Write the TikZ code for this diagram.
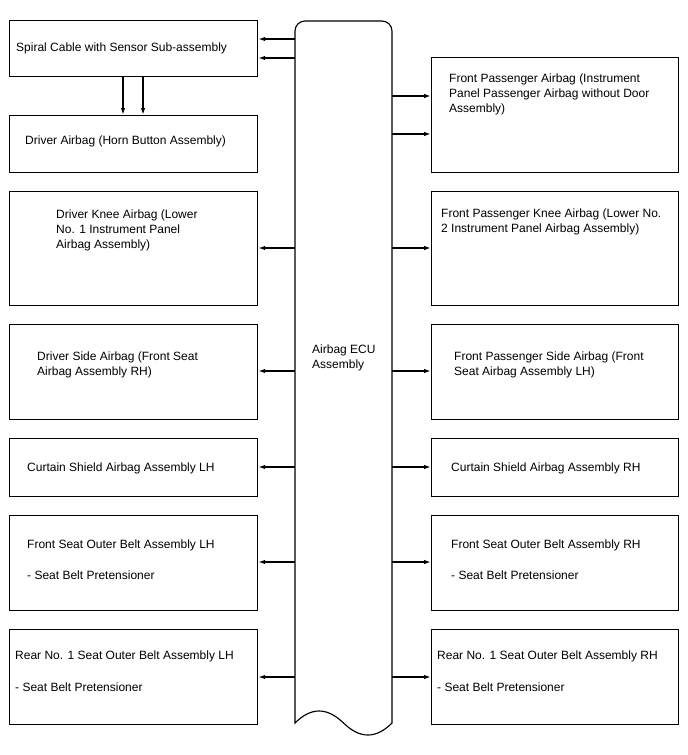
\documentclass[tikz,border=0pt]{standalone}
\usepackage{fontspec}
\setmainfont{Liberation Sans}
\usetikzlibrary{arrows.meta}
\begin{document}
\begin{tikzpicture}[x=1pt,y=-1pt,
  box/.style={draw, line width=1.15pt, inner sep=0, anchor=north west},
  lbox/.style={box, minimum width=248pt},
  rbox/.style={box, minimum width=247pt},
  txt/.style={anchor=base west, inner sep=0, font=\fontsize{12}{15}\selectfont},
  arr/.style={-{Latex[length=7pt,width=4.5pt]}, line width=1.4pt},
  eculine/.style={line width=1.15pt}]
\useasboundingbox (0,0) rectangle (688,755);

% central ECU
\node[anchor=north west, inner sep=0, minimum width=97pt, minimum height=702pt] (ecu) at (295,21) {};
\draw[eculine] [rounded corners=10pt] (295,723) -- (295,21) -- (392,21) [sharp corners] -- (392,723)
  .. controls (376,739) and (360,739) .. (343.5,723)
  .. controls (327,707) and (311,707) .. (295,723) -- cycle;
\node[txt] (e1) at (312,353) {Airbag ECU};
\node[txt] (e2) at (312,368) {Assembly};

% left boxes
\node[lbox, minimum height=56pt] (spiral) at (9,20) {};
\node[lbox, minimum height=57pt] (drv) at (9,115) {};
\node[lbox, minimum height=114pt] (knee) at (9,191) {};
\node[lbox, minimum height=95pt] (side) at (9,324) {};
\node[lbox, minimum height=58pt] (curtL) at (9,438) {};
\node[lbox, minimum height=95pt] (fsL) at (9,515) {};
\node[lbox, minimum height=95pt] (rearL) at (9,629) {};

% right boxes
\node[rbox, minimum height=115pt] (fpa) at (431,57) {};
\node[rbox, minimum height=114pt] (fpk) at (431,191) {};
\node[rbox, minimum height=95pt] (fps) at (431,324) {};
\node[rbox, minimum height=58pt] (curtR) at (431,438) {};
\node[rbox, minimum height=95pt] (fsR) at (431,515) {};
\node[rbox, minimum height=95pt] (rearR) at (431,629) {};

% texts left
\node[txt] (l1) at (16,51) {Spiral Cable with Sensor Sub-assembly};
\node[txt] (l2) at (25,144) {Driver Airbag (Horn Button Assembly)};
\node[txt] (l3a) at (56,218) {Driver Knee Airbag (Lower};
\node[txt] (l3b) at (56,233) {No. 1 Instrument Panel};
\node[txt] (l3c) at (56,248) {Airbag Assembly)};
\node[txt] (l4a) at (37,360) {Driver Side Airbag (Front Seat};
\node[txt] (l4b) at (37,375) {Airbag Assembly RH)};
\node[txt] (l5) at (27,471) {Curtain Shield Airbag Assembly LH};
\node[txt] (l6a) at (27,548) {Front Seat Outer Belt Assembly LH};
\node[txt] (l6b) at (27,579) {- Seat Belt Pretensioner};
\node[txt] (l7a) at (15,659) {Rear No. 1 Seat Outer Belt Assembly LH};
\node[txt] (l7b) at (15,691) {- Seat Belt Pretensioner};

% texts right
\node[txt] (r1a) at (449,82) {Front Passenger Airbag (Instrument};
\node[txt] (r1b) at (449,97) {Panel Passenger Airbag without Door};
\node[txt] (r1c) at (449,112) {Assembly)};
\node[txt] (r2a) at (441,217) {Front Passenger Knee Airbag (Lower No.};
\node[txt] (r2b) at (441,232) {2 Instrument Panel Airbag Assembly)};
\node[txt] (r3a) at (454,360) {Front Passenger Side Airbag (Front};
\node[txt] (r3b) at (454,375) {Seat Airbag Assembly LH)};
\node[txt] (r4) at (451,471) {Curtain Shield Airbag Assembly RH};
\node[txt] (r5a) at (451,548) {Front Seat Outer Belt Assembly RH};
\node[txt] (r5b) at (451,579) {- Seat Belt Pretensioner};
\node[txt] (r6a) at (437,659) {Rear No. 1 Seat Outer Belt Assembly RH};
\node[txt] (r6b) at (437,691) {- Seat Belt Pretensioner};

% connectors left
\draw[arr] (ecu.west |- 0,39) -- (spiral.east |- 0,39);
\draw[arr] (ecu.west |- 0,58) -- (spiral.east |- 0,58);
\draw[arr] (spiral.south -| 123,0) -- (drv.north -| 123,0);
\draw[arr] (spiral.south -| 143,0) -- (drv.north -| 143,0);
\draw[arr] (ecu.west |- 0,248) -- (knee.east |- 0,248);
\draw[arr] (ecu.west |- 0,371) -- (side.east |- 0,371);
\draw[arr] (ecu.west |- 0,467) -- (curtL.east |- 0,467);
\draw[arr] (ecu.west |- 0,562) -- (fsL.east |- 0,562);
\draw[arr] (ecu.west |- 0,677) -- (rearL.east |- 0,677);

% connectors right
\draw[arr] (ecu.east |- 0,96) -- (fpa.west |- 0,96);
\draw[arr] (ecu.east |- 0,134) -- (fpa.west |- 0,134);
\draw[arr] (ecu.east |- 0,248) -- (fpk.west |- 0,248);
\draw[arr] (ecu.east |- 0,371) -- (fps.west |- 0,371);
\draw[arr] (ecu.east |- 0,467) -- (curtR.west |- 0,467);
\draw[arr] (ecu.east |- 0,562) -- (fsR.west |- 0,562);
\draw[arr] (ecu.east |- 0,677) -- (rearR.west |- 0,677);
\end{tikzpicture}
\end{document}
